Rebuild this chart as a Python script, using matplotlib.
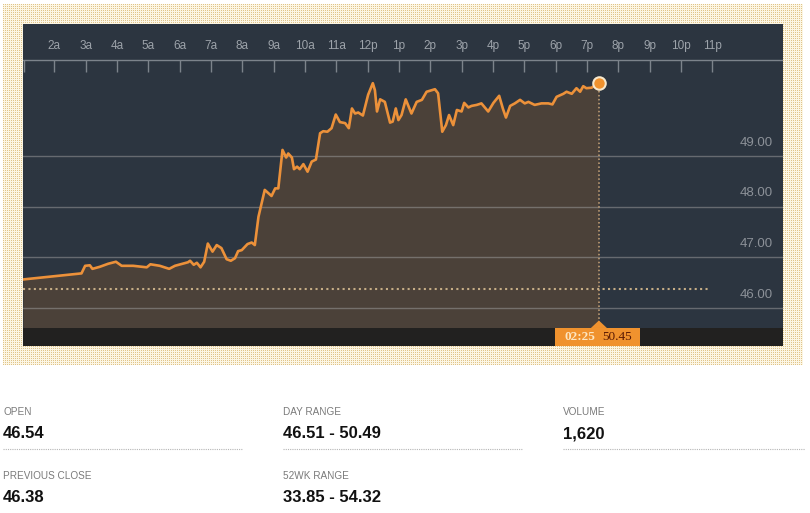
import matplotlib
matplotlib.use("Agg")
import numpy as np
import matplotlib.pyplot as plt
from matplotlib.patches import Rectangle, Polygon
from matplotlib.lines import Line2D
from matplotlib.transforms import blended_transform_factory

plt.rcParams['font.family'] = ['Liberation Sans', 'DejaVu Sans']

# intraday trade times (hh:mm) and prices
times = ["01:00", "02:52", "02:59", "03:08", "03:13", "03:27", "03:43", "03:58", "04:09", "04:31",
         "04:57", "05:04", "05:22", "05:40", "05:51", "06:16", "06:20", "06:27", "06:33", "06:40",
         "06:47", "06:54", "07:03", "07:11", "07:20", "07:30", "07:38", "07:46", "07:52", "07:59",
         "08:10", "08:18", "08:24", "08:31", "08:43", "08:56", "09:03", "09:09", "09:17", "09:24",
         "09:28", "09:35", "09:39", "09:45", "09:50", "09:57", "10:05", "10:13", "10:21", "10:29",
         "10:35", "10:43", "10:51", "10:59", "11:07", "11:17", "11:24", "11:30", "11:36", "11:42",
         "11:51", "12:01", "12:10", "12:14", "12:18", "12:24", "12:33", "12:43", "12:48", "12:54",
         "12:59", "13:05", "13:13", "13:24", "13:34", "13:44", "13:53", "14:09", "14:15", "14:23",
         "14:30", "14:36", "14:44", "14:51", "15:00", "15:05", "15:13", "15:19", "15:29", "15:38",
         "15:51", "16:01", "16:12", "16:19", "16:25", "16:33", "16:42", "16:52", "17:01", "17:08",
         "17:20", "17:33", "17:46", "17:54", "18:02", "18:15", "18:21", "18:31", "18:40", "18:47",
         "18:53", "18:59", "19:09", "19:23"]
prices = [46.56, 46.68, 46.83, 46.84, 46.77, 46.81, 46.87, 46.91, 46.83, 46.83,
          46.80, 46.86, 46.83, 46.77, 46.83, 46.90, 46.93, 46.85, 46.89, 46.80,
          46.91, 47.27, 47.11, 47.24, 47.18, 46.96, 46.93, 46.98, 47.12, 47.14,
          47.26, 47.29, 47.24, 47.80, 48.33, 48.21, 48.36, 48.36, 49.12, 48.97,
          49.05, 48.97, 48.74, 48.79, 48.74, 48.84, 48.69, 48.89, 48.93, 49.45,
          49.49, 49.48, 49.55, 49.82, 49.67, 49.65, 49.55, 49.94, 49.84, 49.86,
          49.80, 50.21, 50.44, 50.30, 49.88, 50.12, 50.07, 49.66, 49.68, 49.94,
          49.71, 49.81, 50.12, 49.84, 50.07, 50.11, 50.27, 50.32, 50.24, 49.48,
          49.61, 49.81, 49.61, 49.91, 49.88, 50.05, 49.96, 49.99, 50.01, 50.04,
          49.88, 50.05, 50.19, 49.94, 49.76, 49.99, 50.04, 50.11, 50.04, 50.07,
          50.01, 50.04, 50.04, 50.02, 50.17, 50.23, 50.27, 50.23, 50.34, 50.27,
          50.38, 50.34, 50.35, 50.45]

hour_ticks = list(range(2, 24))
hour_labels = ["2a", "3a", "4a", "5a", "6a", "7a", "8a", "9a", "10a", "11a", "12p",
               "1p", "2p", "3p", "4p", "5p", "6p", "7p", "8p", "9p", "10p", "11p"]
price_ticks = [46, 47, 48, 49]
prev_close = 46.38
last_label_time = "02:25"

stat_labels = ["OPEN", "DAY RANGE", "VOLUME", "PREVIOUS CLOSE", "52WK RANGE"]
stat_values = ["46.54", "46.51 - 50.49", "1,620", "46.38", "33.85 - 54.32"]


def to_hours(t):
    h, m = t.split(":")
    return int(h) + int(m) / 60.0


hours = [to_hours(t) for t in times]

W, H = 810, 513
fig = plt.figure(figsize=(W / 100, H / 100), dpi=100)
fig.patch.set_facecolor("white")

# beige dotted frame around the chart (pixel dot pattern)
fw, fh = 800, 361
pat = np.ones((fh, fw, 3))
pat[:, :] = np.array([252, 246, 228]) / 255
pat[::2, ::2] = np.array([224, 196, 138]) / 255
fig.figimage(pat, xo=3, yo=H - 365, zorder=-1)

ax = fig.add_axes([23 / W, 1 - 346 / H, 760 / W, 322 / H])
ax.set_zorder(2)
ax.set_facecolor("#2c3540")
x_lo, x_hi = 1.0, 25.26
y_lo, y_hi = 45.245, 51.609
floor = 45.601
ax.set_xlim(x_lo, x_hi)
ax.set_ylim(y_lo, y_hi)
for s in ax.spines.values():
    s.set_visible(False)
ax.set_xticks([])
ax.set_yticks([])

# area + line
ax.fill_between(hours, prices, floor, color="#4b4139", lw=0, zorder=1)
ax.plot(hours, prices, color="#ec913a", lw=1.9, zorder=4, solid_joinstyle="round")

# gridlines and price labels
for p in price_ticks:
    ax.axhline(p, color="#a0a0a0", lw=1, alpha=0.5, zorder=3)
    ax.text(0.987, p + 0.26, f"{p:.2f}", transform=blended_transform_factory(ax.transAxes, ax.transData),
            ha="right", va="center", fontsize=9.5, color="#8c9198", zorder=5)

# black strip at the bottom
ax.axhspan(y_lo, floor, color="#222120", lw=0, zorder=2)

# hour header
bt = blended_transform_factory(ax.transData, ax.transAxes)
ax.axhline(y_hi - 36 / 50.6, color="#7c838b", lw=1, zorder=3)
ax.vlines(hour_ticks + [x_lo + 0.02], 0.851, 0.888, transform=bt, color="#7c838b", lw=1, zorder=3)
for h, lab in zip(hour_ticks, hour_labels):
    ax.text(h, 0.932, lab, transform=bt, ha="center", va="center", fontsize=8.5, color="#9da3aa")

# previous close dotted line
ax.plot([x_lo, 22.9], [prev_close, prev_close], color="#c6ad86", lw=1.5,
        linestyle=(0, (1, 1.6)), zorder=3)

# last point marker and drop line
lx, ly = hours[-1], prices[-1]
ax.plot([lx, lx], [ly, floor], color="#c9a57a", lw=1.1, linestyle=(0, (1, 1.6)), zorder=3)
ax.plot([lx], [ly], marker="o", ms=9, mfc="#f0922e", mec="#f7e8cc", mew=1.5, zorder=6)

# price tag in the bottom strip
px = 1 / 31.33
box = Rectangle((lx - 44 * px, y_lo), 85 * px, floor - y_lo, facecolor="#f0922e", lw=0, zorder=6)
ax.add_patch(box)
tri = Polygon([[lx - 8 * px, floor], [lx + 8 * px, floor], [lx, floor + 7.5 / 50.6]],
              closed=True, facecolor="#f0922e", lw=0, zorder=6)
ax.add_patch(tri)
ty = (y_lo + floor) / 2
serif = ["Liberation Serif", "DejaVu Serif"]
ax.text(lx - 19 * px, ty, last_label_time, ha="center", va="center", fontsize=9.5,
        fontweight="bold", color="#fde6c2", family=serif, zorder=7)
ax.text(lx + 18 * px, ty, f"{ly:.2f}", ha="center", va="center", fontsize=9.5,
        color="#5a1a04", family=serif, zorder=7)

# stats block below the chart
col_x = [3, 283, 563, 3, 283]
row_y = [412, 412, 412, 476, 476]
for lab, val, cx, ry in zip(stat_labels, stat_values, col_x, row_y):
    fig.text(cx / W, 1 - ry / H, lab, fontsize=7.2, color="#7a7a7a", va="center", ha="left")
    fig.text(cx / W, 1 - (ry + 22) / H, val, fontsize=12, fontweight="bold", color="#111111",
             va="center", ha="left")
for x0, x1 in [(3, 243), (283, 523), (563, 805)]:
    fig.add_artist(Line2D([x0 / W, x1 / W], [1 - 449 / H, 1 - 449 / H], transform=fig.transFigure,
                          color="#b5b5b5", lw=0.8, linestyle=(0, (1, 1))))

fig.savefig("out.png", dpi=100, facecolor=fig.get_facecolor())
